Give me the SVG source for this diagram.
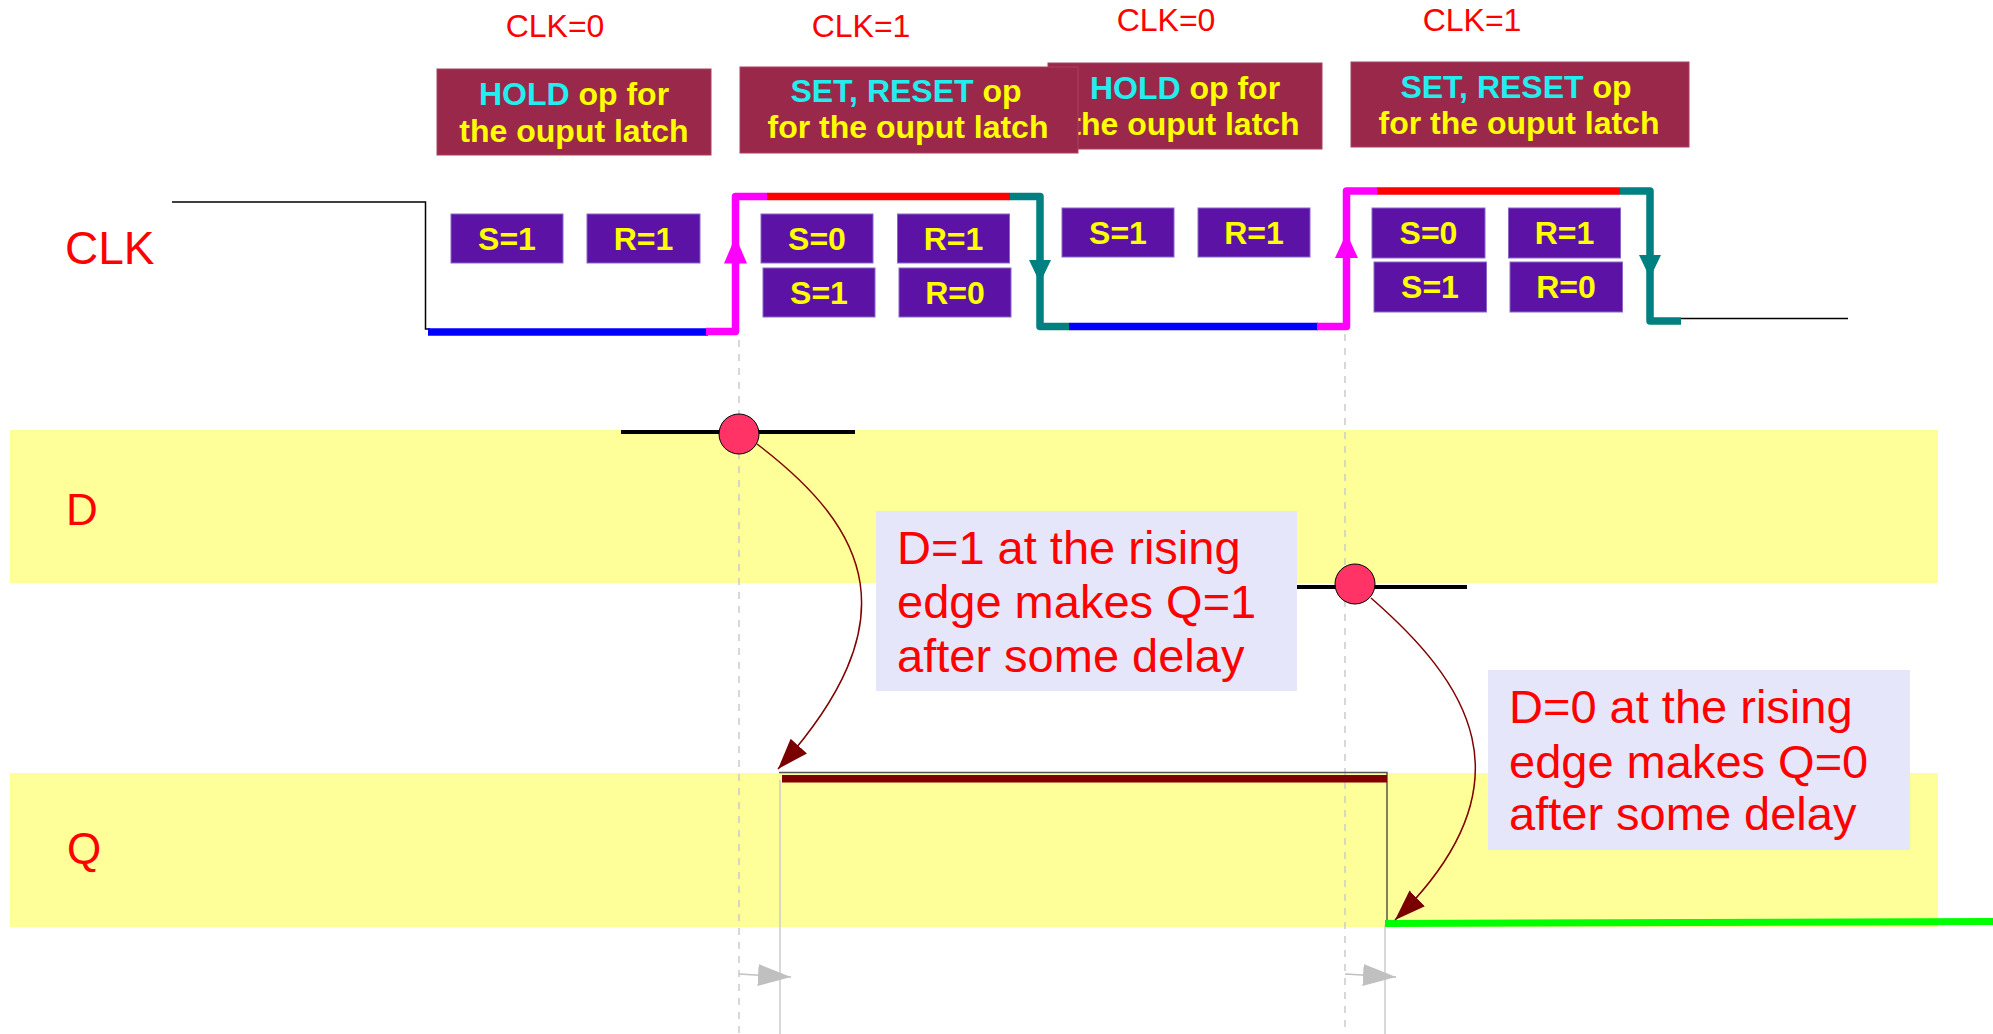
<svg xmlns="http://www.w3.org/2000/svg" width="1993" height="1034" viewBox="0 0 1993 1034">
<style>
  text { font-family: "Liberation Sans", Arial, sans-serif; }
  .lbl { fill: #ff0000; font-size: 46px; }
  .clk { fill: #ff0000; font-size: 32px; text-anchor: middle; }
  .op { fill: #99284a; stroke: #a8405f; stroke-width: 1; }
  .opt { fill: #ffff00; font-size: 32px; font-weight: bold; text-anchor: middle; }
  .cy { fill: #22eeee; }
  .sr { fill: #5b12a5; stroke: #8a66c8; stroke-width: 1; }
  .srt { fill: #ffff00; font-size: 32px; font-weight: bold; text-anchor: middle; }
  .band { fill: #ffff99; }
  .note { fill: #e6e6fa; }
  .notet { fill: #ff0000; font-size: 47px; }
  .dash { stroke: #cccccc; stroke-width: 1.5; stroke-dasharray: 7 7; fill: none; }
  .guide { stroke: #cccccc; stroke-width: 1.5; fill: none; }
  .thin { stroke: #000000; stroke-width: 1.5; fill: none; }
  .dline { stroke: #000000; stroke-width: 4; fill: none; }
  .w { fill: none; stroke-width: 7.5; stroke-linejoin: round; stroke-linecap: butt; }
  .blue { stroke: #0000ff; }
  .mag { stroke: #ff00ff; }
  .red { stroke: #ff0000; }
  .teal { stroke: #008080; }
  .magf { fill: #ff00ff; }
  .tealf { fill: #008080; }
  .dot { fill: #ff3366; stroke: #000000; stroke-width: 1; }
  .curve { fill: none; stroke: #800000; stroke-width: 1.5; marker-end: url(#ah); }
  .delay { fill: none; stroke: #c0c0c0; stroke-width: 1.5; marker-end: url(#gah); }
</style>
<defs>
  <marker id="ah" markerUnits="userSpaceOnUse" markerWidth="34" markerHeight="24" refX="31" refY="11" orient="auto">
    <path d="M0,0 L31,11 L0,22 z" fill="#7a0000"/>
  </marker>
  <marker id="gah" markerUnits="userSpaceOnUse" markerWidth="36" markerHeight="24" refX="33" refY="11" orient="auto">
    <path d="M0,0 L33,11 L0,22 z" fill="#c0c0c0"/>
  </marker>
</defs>
<rect x="0" y="0" width="1993" height="1034" fill="#ffffff"/>

<g id="bands">
  <rect class="band" x="10" y="430" width="1928" height="153"/>
  <rect class="band" x="10" y="773" width="1928" height="154"/>
</g>

<g id="guides">
  <line class="dash" x1="739" y1="340" x2="739" y2="1034"/>
  <line class="dash" x1="1345" y1="334" x2="1345" y2="1034"/>
  <line class="guide" x1="780" y1="780" x2="780" y2="1034"/>
  <line class="guide" x1="1385" y1="925" x2="1385" y2="1034"/>
</g>

<g id="labels">
  <text class="lbl" x="65" y="264">CLK</text>
  <text class="lbl" x="66" y="525" style="font-size:44px">D</text>
  <text class="lbl" x="67" y="864" style="font-size:44px">Q</text>
  <text class="clk" x="555" y="37">CLK=0</text>
  <text class="clk" x="861" y="37">CLK=1</text>
  <text class="clk" x="1166" y="31">CLK=0</text>
  <text class="clk" x="1472" y="31">CLK=1</text>
</g>

<g id="clk-wave">
  <polyline class="thin" points="172,202 425.5,202 425.5,329 430,329"/>
  <line class="w blue" x1="428" y1="332" x2="708" y2="332"/>
  <polyline class="w mag" points="706,331.5 735.5,331.5 735.5,196.5 767,196.5"/>
  <line class="w red" x1="767" y1="196.5" x2="1010" y2="196.5"/>
  <polyline class="w teal" points="1010,196.5 1040,196.5 1040,326.5 1069,326.5"/>
  <line class="w blue" x1="1069" y1="326.5" x2="1318" y2="326.5"/>
  <polyline class="w mag" points="1317,326.5 1346.5,326.5 1346.5,191 1377,191"/>
  <line class="w red" x1="1377" y1="191" x2="1620" y2="191"/>
  <polyline class="w teal" points="1620,191 1650,191 1650,321 1681,321"/>
  <line class="thin" x1="1681" y1="318.5" x2="1848" y2="318.5"/>
  <polygon class="magf" points="735.5,236.5 747,263.5 724,263.5"/>
  <polygon class="tealf" points="1040,283 1029,260 1051,260"/>
  <polygon class="magf" points="1346.5,233 1358,258 1335,258"/>
  <polygon class="tealf" points="1650,278 1639,255 1661,255"/>
</g>

<g id="op-hold-2">
  <rect class="op" x="1048" y="63" width="274" height="86"/>
  <text class="opt" x="1185" y="99"><tspan class="cy">HOLD</tspan> op for</text>
  <text class="opt" x="1185" y="135">the ouput latch</text>
</g>
<g id="op-hold-1">
  <rect class="op" x="437" y="69" width="274" height="86"/>
  <text class="opt" x="574" y="105"><tspan class="cy">HOLD</tspan> op for</text>
  <text class="opt" x="574" y="142">the ouput latch</text>
</g>
<g id="op-set-1">
  <rect class="op" x="740" y="67" width="338" height="86"/>
  <text class="opt" x="906" y="102"><tspan class="cy">SET, RESET</tspan> op</text>
  <text class="opt" x="908" y="138">for the ouput latch</text>
</g>
<g id="op-set-2">
  <rect class="op" x="1351" y="62" width="338" height="85"/>
  <text class="opt" x="1516" y="98"><tspan class="cy">SET, RESET</tspan> op</text>
  <text class="opt" x="1519" y="134">for the ouput latch</text>
</g>

<g id="sr-1"><rect class="sr" x="451" y="214" width="112" height="49"/><text class="srt" x="507" y="250">S=1</text></g>
<g id="sr-2"><rect class="sr" x="587" y="214" width="113" height="49"/><text class="srt" x="643.5" y="250">R=1</text></g>
<g id="sr-3"><rect class="sr" x="761" y="214" width="112" height="49"/><text class="srt" x="817" y="250">S=0</text></g>
<g id="sr-4"><rect class="sr" x="897.5" y="214" width="112" height="49"/><text class="srt" x="953.5" y="250">R=1</text></g>
<g id="sr-5"><rect class="sr" x="763" y="268" width="112" height="49"/><text class="srt" x="819" y="304">S=1</text></g>
<g id="sr-6"><rect class="sr" x="899" y="268" width="112" height="49"/><text class="srt" x="955" y="304">R=0</text></g>
<g id="sr-7"><rect class="sr" x="1062" y="208" width="112" height="49"/><text class="srt" x="1118" y="244">S=1</text></g>
<g id="sr-8"><rect class="sr" x="1198" y="208" width="112" height="49"/><text class="srt" x="1254" y="244">R=1</text></g>
<g id="sr-9"><rect class="sr" x="1372" y="208" width="113" height="50"/><text class="srt" x="1428.5" y="244">S=0</text></g>
<g id="sr-10"><rect class="sr" x="1508.5" y="208" width="112" height="50"/><text class="srt" x="1564.5" y="244">R=1</text></g>
<g id="sr-11"><rect class="sr" x="1374" y="262" width="112.5" height="50"/><text class="srt" x="1430" y="298">S=1</text></g>
<g id="sr-12"><rect class="sr" x="1510" y="262" width="112.5" height="50"/><text class="srt" x="1566" y="298">R=0</text></g>

<g id="d-wave">
  <line class="dline" x1="621" y1="432" x2="855" y2="432"/>
  <line class="dline" x1="1297" y1="587" x2="1467" y2="587"/>
</g>

<g id="q-wave">
  <polyline points="779,772.5 1387,772.5 1387,920" fill="none" stroke="#555555" stroke-width="1.5"/>
  <line x1="782" y1="778.7" x2="1387" y2="778.7" stroke="#800000" stroke-width="7.5"/>
  <line x1="1385" y1="923.5" x2="1993" y2="921.5" stroke="#00ff00" stroke-width="7"/>
</g>

<g id="note-1">
  <rect class="note" x="876" y="511" width="421" height="180"/>
  <text class="notet" x="897" y="564">D=1 at the rising</text>
  <text class="notet" x="897" y="618">edge makes Q=1</text>
  <text class="notet" x="897" y="671.5">after some delay</text>
</g>
<g id="note-2">
  <rect class="note" x="1488" y="670" width="422" height="180"/>
  <text class="notet" x="1509" y="723">D=0 at the rising</text>
  <text class="notet" x="1509" y="778">edge makes Q=0</text>
  <text class="notet" x="1509" y="830">after some delay</text>
</g>

<g id="dot-1"><circle class="dot" cx="739" cy="434" r="20"/></g>
<g id="dot-2"><circle class="dot" cx="1355" cy="584" r="20"/></g>

<g id="connectors">
  <path class="curve" d="M757,444 C870,530 912,621 778,769"/>
  <path class="curve" d="M1371,598 C1465,680 1538,781 1395,920"/>
  <path class="delay" d="M739,974 L791,977"/>
  <path class="delay" d="M1345,974 L1396,977"/>
</g>
</svg>
